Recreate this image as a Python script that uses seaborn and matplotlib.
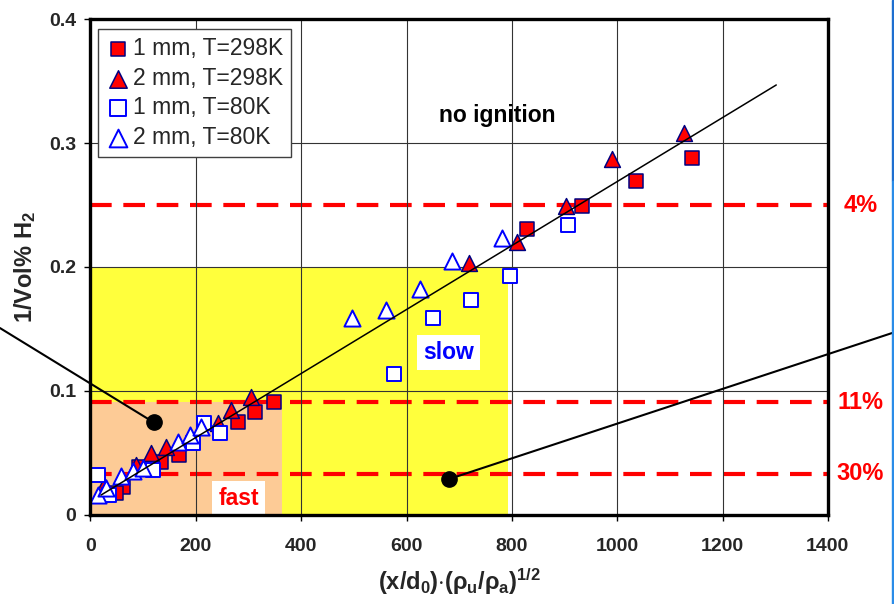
import numpy as np
import pandas as pd
import matplotlib
matplotlib.use("Agg")
import matplotlib.pyplot as plt
from matplotlib import font_manager
from matplotlib.patches import Rectangle
import seaborn as sns

# ---- data -------------------------------------------------------------
# 1 mm nozzle, T = 298 K
x_1mm_298 = [349, 313, 280, 169, 134, 93, 61, 48, 829, 934, 1036, 1142]
y_1mm_298 = [0.0914, 0.0833, 0.0753, 0.0484, 0.0425, 0.0390, 0.0228, 0.0175,
             0.2306, 0.2490, 0.2690, 0.2880]

# 2 mm nozzle, T = 298 K
x_2mm_298 = [305, 267, 242, 143, 115, 86, 26, 718, 810, 902, 990, 1126]
y_2mm_298 = [0.0954, 0.0847, 0.0740, 0.0550, 0.0497, 0.0403, 0.0242,
             0.2035, 0.2200, 0.2490, 0.2870, 0.3078]

# 1 mm nozzle, T = 80 K
x_1mm_80 = [14, 36, 118, 194, 216, 245, 577, 651, 723, 797, 906]
y_1mm_80 = [0.0323, 0.0161, 0.0363, 0.0578, 0.0740, 0.0659, 0.1137, 0.1586,
            0.1730, 0.1930, 0.2340]

# 2 mm nozzle, T = 80 K
x_2mm_80 = [14, 29, 58, 80, 99, 166, 188, 210, 497, 561, 626, 687, 782]
y_2mm_80 = [0.0161, 0.0215, 0.0317, 0.0355, 0.0376, 0.0590, 0.0645, 0.0712,
            0.1590, 0.1650, 0.1820, 0.2050, 0.2230]

# linear correlation through all points
fit_slope = 0.000258
fit_intercept = 0.0109
fit_x_range = [20, 1302]

# hydrogen concentration limits (vol %)
conc_limits = [4, 11, 30]

# ignition regimes
slow_region = (792, 0.2)          # x extent, y extent
fast_region = (363, 1 / 11)

# callout points
callout_pts_x = [120, 681]
callout_pts_y = [0.0747, 0.029]
callout_ends_x = [-172, 1528]
callout_ends_y = [0.1508, 0.1476]

x_ticks = [0, 200, 400, 600, 800, 1000, 1200, 1400]
y_ticks = [0, 0.1, 0.2, 0.3, 0.4]
y_tick_labels = ["0", "0.1", "0.2", "0.3", "0.4"]

series = [
    ("1 mm, T=298K", x_1mm_298, y_1mm_298),
    ("2 mm, T=298K", x_2mm_298, y_2mm_298),
    ("1 mm, T=80K", x_1mm_80, y_1mm_80),
    ("2 mm, T=80K", x_2mm_80, y_2mm_80),
]
frames = [pd.DataFrame({"x": xs, "y": ys, "series": name}) for name, xs, ys in series]
df = pd.concat(frames, ignore_index=True)

# ---- style ------------------------------------------------------------
sns.set_theme(style="white")
available = {f.name for f in font_manager.fontManager.ttflist}
base_font = "Liberation Sans" if "Liberation Sans" in available else "DejaVu Sans"
narrow_font = "Liberation Sans Narrow" if "Liberation Sans Narrow" in available else base_font
plt.rcParams["font.family"] = [base_font, "DejaVu Sans"]
plt.rcParams["mathtext.fontset"] = "custom"
plt.rcParams["mathtext.rm"] = f"{narrow_font}:bold"
plt.rcParams["mathtext.it"] = f"{narrow_font}:bold"
plt.rcParams["mathtext.bf"] = f"{narrow_font}:bold"

styles = {
    "1 mm, T=298K": dict(marker="s", s=95, color="#FF0000", edgecolor="#000080", linewidth=1.1),
    "2 mm, T=298K": dict(marker="^", s=130, color="#FF0000", edgecolor="#000080", linewidth=1.1),
    "1 mm, T=80K": dict(marker="s", s=100, color="white", edgecolor="#0000FF", linewidth=1.4),
    "2 mm, T=80K": dict(marker="^", s=135, color="white", edgecolor="#0000FF", linewidth=1.4),
}

fig = plt.figure(figsize=(8.95, 6.04), dpi=100)
ax = fig.add_axes([0.1011, 0.1474, 0.8239, 0.8211])

# regime shading
ax.fill_between([0, slow_region[0]], 0, slow_region[1], color="#FFFF3C", lw=0, zorder=0)
ax.fill_between([0, fast_region[0]], 0, fast_region[1], color="#FDCB96", lw=0, zorder=0.1)

# concentration limit lines
for c in conc_limits:
    ax.axhline(1 / c, color="#FF0000", lw=3.0, dashes=(5.2, 2.8), zorder=1.5)
    ax.text(1462, 1 / c, f"{c}%", color="#FF0000", fontsize=17, fontweight="bold",
            ha="center", va="center", clip_on=False)

# measurements
for name, _, _ in series:
    sns.scatterplot(data=df[df["series"] == name], x="x", y="y", ax=ax,
                    label=name, zorder=3, **styles[name])

# correlation line
fx = np.array(fit_x_range)
ax.plot(fx, fit_slope * fx + fit_intercept, color="black", lw=1.1, zorder=4)

# callouts leaving the plot area
for px, py, ex, ey in zip(callout_pts_x, callout_pts_y, callout_ends_x, callout_ends_y):
    ax.plot([px, ex], [py, ey], color="black", lw=1.5, clip_on=False, zorder=5)
    ax.plot([px], [py], marker="o", ms=11, color="black", clip_on=False, zorder=6)

# regime labels
ax.text(773, 0.322, "no ignition", fontsize=16.5, fontweight="bold", color="black",
        ha="center", va="center", zorder=6)
ax.text(679, 0.131, "slow", fontsize=16.5, fontweight="bold", color="#0000FF",
        ha="center", va="center", zorder=6,
        bbox=dict(facecolor="white", edgecolor="none", pad=4.5))
ax.text(281, 0.0129, "fast", fontsize=16.5, fontweight="bold", color="#FF0000",
        ha="center", va="center", zorder=6,
        bbox=dict(facecolor="white", edgecolor="none", pad=4.5))

# axes
ax.set_xlim(0, 1400)
ax.set_ylim(0, 0.4)
ax.set_xticks(x_ticks)
ax.set_yticks(y_ticks)
ax.set_yticklabels(y_tick_labels)
ax.set_axisbelow(False)
ax.grid(True, color="#333333", lw=0.8, zorder=1)
for gl in ax.get_xgridlines() + ax.get_ygridlines():
    gl.set_zorder(1)
for sp in ax.spines.values():
    sp.set_visible(True)
    sp.set_color("black")
    sp.set_linewidth(2.4)
    sp.set_zorder(7)
ax.tick_params(axis="both", which="major", direction="out", length=4.5, width=1,
               color="black", labelsize=14, bottom=True, left=True)
ax.tick_params(axis="x", pad=12)
ax.tick_params(axis="y", pad=6)
for lab in ax.get_xticklabels() + ax.get_yticklabels():
    lab.set_fontweight("bold")
    lab.set_fontfamily(narrow_font)

ax.set_xlabel(r"$(x/d_0){\cdot}(\rho_u/\rho_a)^{1/2}$", fontsize=17, labelpad=8)
ax.set_ylabel(r"1/Vol% H$_2$", fontsize=17, fontweight="bold", labelpad=8)

leg = ax.legend(loc="upper left", bbox_to_anchor=(0.0106, 0.979), borderaxespad=0,
                fontsize=16.5, frameon=True, fancybox=False, framealpha=1,
                edgecolor="#404040", handletextpad=0.15, handlelength=1.0,
                labelspacing=0.28, borderpad=0.35, markerscale=1.1)
leg.get_frame().set_linewidth(1.0)
leg.set_zorder(8)

# slide edge on the right
fig.patches.append(Rectangle((892 / 895, 0.70), 3 / 895, 0.30, transform=fig.transFigure,
                             color="#1E6FD0", zorder=0))
fig.patches.append(Rectangle((892 / 895, 0.0), 3 / 895, 0.70, transform=fig.transFigure,
                             color="#2A8CE8", zorder=0))

fig.savefig("out.png", dpi=100)
